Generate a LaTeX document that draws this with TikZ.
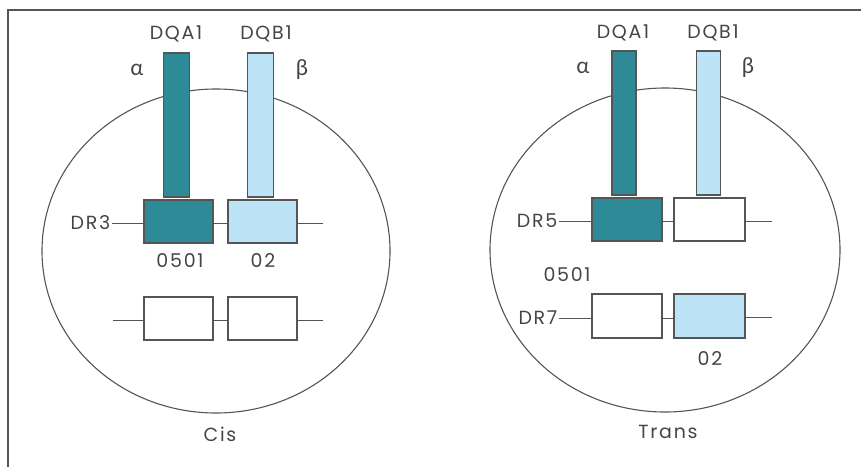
\documentclass[tikz,border=0pt]{standalone}
\usepackage{fontspec}
\setmainfont{Poppins}[LetterSpace=9]
\newfontfamily\greekfont{Lato}
\definecolor{teal}{HTML}{2F8A98}
\definecolor{lightb}{HTML}{BDE3F7}
\definecolor{lineC}{HTML}{555555}
\definecolor{txt}{HTML}{454545}
\begin{document}
\begin{tikzpicture}[x=1pt,y=-1pt,
  outl/.style={draw=lineC,line width=1.1pt},
  gbox/.style={outl,minimum width=69pt,minimum height=43pt,inner sep=0pt},
  bar/.style={outl,minimum width=26pt,minimum height=144pt,inner sep=0pt},
  lbl/.style={text=txt,font=\fontsize{19}{20}\selectfont,inner sep=1.5pt},
  glbl/.style={text=txt,font=\greekfont\fontsize{22}{23}\selectfont,inner sep=0pt},
  conn/.style={draw=lineC,line width=1pt}]
\useasboundingbox (0,0) rectangle (861,466);
\draw[draw=lineC,line width=1.3pt] (8,470) -- (8,10) -- (865,10);
% circles
\draw[outl] (216,251) ellipse [x radius=174, y radius=162];
\draw[outl] (665,250) ellipse [x radius=175, y radius=162];
% ---- Cis ----
\node[bar,fill=teal] (la) at (176.5,125) {};
\node[bar,fill=lightb] (lb) at (260.5,125) {};
\node[gbox,fill=teal] (c1) at (178.5,221.5) {};
\node[gbox,fill=lightb] (c2) at (262.5,221.5) {};
\node[gbox,fill=white] (c3) at (178.5,318.5) {};
\node[gbox,fill=white] (c4) at (262.5,318.5) {};
\node[lbl,anchor=east] (dr3) at (112,223) {DR3};
\coordinate (c2e) at (323,223);
\coordinate (c3w) at (113,320);
\coordinate (c4e) at (323,320);
\draw[conn] (dr3.east) -- (c1.west |- dr3.east);
\draw[conn] (c1.east |- dr3.east) -- (c2.west |- dr3.east);
\draw[conn] (c2.east |- c2e) -- (c2e);
\draw[conn] (c3w) -- (c3.west |- c3w);
\draw[conn] (c3.east |- c3w) -- (c4.west |- c3w);
\draw[conn] (c4.east |- c4e) -- (c4e);
\node[lbl] (cdqa) at (176,34) {DQA1};
\node[lbl] (cdqb) at (266,34) {DQB1};
\node[glbl] (calpha) at (137,70) {α};
\node[glbl] (cbeta) at (302,70) {β};
\node[lbl] (c0501) at (180,261) {0501};
\node[lbl] (c02) at (263,261) {02};
\node[lbl] (cis) at (220,434) {Cis};
% ---- Trans ----
\node[bar,fill=teal,minimum width=24pt] (ra) at (624,123) {};
\node[bar,fill=lightb,minimum width=24pt] (rb) at (708.5,123) {};
\node[gbox,fill=teal,minimum width=70pt] (t1) at (627,219.5) {};
\node[gbox,fill=white,minimum width=71pt] (t2) at (709.5,219.5) {};
\node[gbox,fill=white,minimum width=70pt,minimum height=44pt] (t3) at (627,316) {};
\node[gbox,fill=lightb,minimum width=71pt,minimum height=44pt] (t4) at (709.5,316) {};
\node[lbl,anchor=east] (dr5) at (559,221) {DR5};
\node[lbl,anchor=east] (dr7) at (559,318) {DR7};
\coordinate (t2e) at (772,221);
\coordinate (t4e) at (772,317);
\draw[conn] (dr5.east) -- (t1.west |- dr5.east);
\draw[conn] (t1.east |- dr5.east) -- (t2.west |- dr5.east);
\draw[conn] (t2.east |- t2e) -- (t2e);
\draw[conn] (dr7.east) -- (t3.west |- dr7.east);
\draw[conn] (t3.east |- dr7.east) -- (t4.west |- dr7.east);
\draw[conn] (t4.east |- t4e) -- (t4e);
\node[lbl] (tdqa) at (623,33) {DQA1};
\node[lbl] (tdqb) at (713,33) {DQB1};
\node[glbl] (talpha) at (583,68) {α};
\node[glbl] (tbeta) at (748,68) {β};
\node[lbl] (t0501) at (567,275) {0501};
\node[lbl] (t02) at (710,359) {02};
\node[lbl] (trans) at (668,432) {Trans};
\end{tikzpicture}
\end{document}
